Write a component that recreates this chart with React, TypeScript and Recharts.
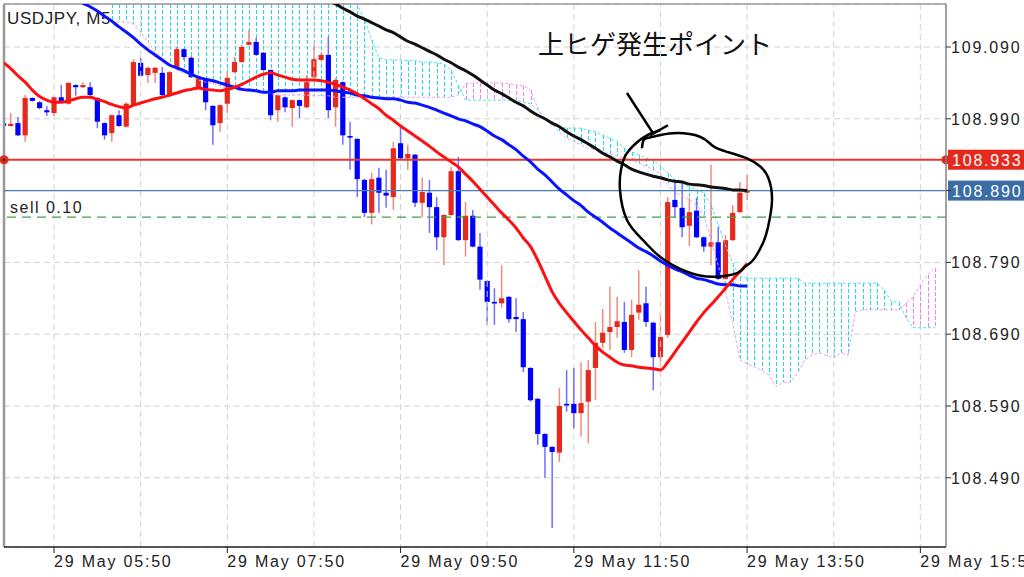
import React from 'react';
import { ComposedChart, Bar, Line, XAxis, YAxis, CartesianGrid, ReferenceLine } from 'recharts';

const W = 1024;
const H = 577;
const X_MIN = -6.93;
const X_MAX = 123.55;
const Y_MIN = 108.3936;
const Y_MAX = 109.1499;

// candles, bar index -7 .. 96 (index 0 = 29 May 05:50, 5 minute bars)
const candleStart = -7;
const opens = [
  108.984, 108.980, 108.984, 108.967, 109.019, 109.013, 109.002,
  108.998, 109.020, 109.011, 109.037, 109.034, 109.034, 109.019, 108.984, 108.970, 108.995,
  108.979, 109.009, 109.068, 109.051, 109.054, 109.054, 109.022, 109.062, 109.087, 109.075,
  109.034, 109.044, 109.008, 108.984, 109.011, 109.055, 109.069, 109.093, 109.097, 109.082,
  109.058, 109.002, 109.020, 109.005, 109.016, 109.006, 109.048, 109.072, 109.079, 109.006,
  109.041, 108.966, 108.962, 108.905, 108.859, 108.908, 108.887, 108.881, 108.956, 108.935,
  108.940, 108.873, 108.887, 108.867, 108.825, 108.856, 108.917, 108.821, 108.855, 108.812,
  108.764, 108.735, 108.733, 108.742, 108.714, 108.711, 108.643, 108.600, 108.551, 108.533,
  108.525, 108.593, 108.593, 108.580, 108.596, 108.643, 108.678, 108.693, 108.700, 108.707,
  108.668, 108.720, 108.733, 108.706, 108.658, 108.689, 108.877, 108.866, 108.841, 108.862,
  108.825, 108.812, 108.818, 108.767, 108.821, 108.860, 108.887,
];
const highs = [
  108.985, 108.998, 108.993, 109.023, 109.020, 109.015, 109.008,
  109.021, 109.037, 109.041, 109.038, 109.041, 109.041, 109.020, 108.985, 108.996, 109.002,
  109.013, 109.073, 109.075, 109.062, 109.062, 109.062, 109.056, 109.090, 109.088, 109.077,
  109.048, 109.045, 109.009, 109.010, 109.055, 109.076, 109.093, 109.114, 109.103, 109.083,
  109.059, 109.024, 109.021, 109.017, 109.017, 109.051, 109.093, 109.082, 109.104, 109.047,
  109.042, 108.986, 108.963, 108.906, 108.915, 108.922, 108.919, 108.958, 108.981, 108.954,
  108.941, 108.908, 108.905, 108.881, 108.857, 108.923, 108.937, 108.874, 108.863, 108.831,
  108.765, 108.754, 108.786, 108.743, 108.740, 108.721, 108.644, 108.601, 108.552, 108.534,
  108.615, 108.640, 108.643, 108.651, 108.654, 108.707, 108.725, 108.756, 108.742, 108.735,
  108.738, 108.779, 108.756, 108.707, 108.720, 108.881, 108.902, 108.901, 108.880, 108.880,
  108.826, 108.926, 108.839, 108.828, 108.870, 108.902, 108.912,
];
const lows = [
  108.979, 108.979, 108.966, 108.958, 109.014, 109.003, 108.994,
  108.994, 109.012, 109.010, 109.022, 109.033, 109.022, 108.977, 108.961, 108.958, 108.979,
  108.978, 109.008, 109.049, 109.040, 109.040, 109.022, 109.020, 109.061, 109.072, 109.047,
  109.033, 109.002, 108.954, 108.972, 108.998, 109.054, 109.068, 109.092, 109.078, 109.057,
  108.988, 108.986, 108.999, 108.979, 108.991, 109.005, 109.047, 109.071, 108.991, 108.979,
  108.954, 108.919, 108.881, 108.853, 108.843, 108.859, 108.866, 108.863, 108.934, 108.919,
  108.867, 108.853, 108.831, 108.807, 108.786, 108.855, 108.820, 108.798, 108.811, 108.752,
  108.703, 108.703, 108.727, 108.706, 108.693, 108.637, 108.596, 108.536, 108.490, 108.420,
  108.512, 108.582, 108.559, 108.547, 108.538, 108.598, 108.671, 108.668, 108.685, 108.664,
  108.658, 108.710, 108.700, 108.612, 108.644, 108.685, 108.853, 108.825, 108.813, 108.824,
  108.805, 108.786, 108.766, 108.766, 108.820, 108.859, 108.877,
];
const closes = [
  108.980, 108.983, 108.967, 109.019, 109.015, 109.005, 108.999,
  109.020, 109.013, 109.040, 109.034, 109.037, 109.023, 108.986, 108.967, 108.995, 108.980,
  109.011, 109.069, 109.050, 109.061, 109.061, 109.023, 109.055, 109.087, 109.076, 109.048,
  109.047, 109.013, 108.981, 109.009, 109.047, 109.069, 109.090, 109.097, 109.079, 109.058,
  108.995, 109.023, 109.006, 109.016, 109.008, 109.041, 109.073, 109.079, 109.002, 109.044,
  108.967, 108.965, 108.906, 108.859, 108.906, 108.887, 108.883, 108.949, 108.935, 108.941,
  108.873, 108.888, 108.867, 108.825, 108.856, 108.917, 108.821, 108.855, 108.812, 108.766,
  108.735, 108.733, 108.740, 108.711, 108.711, 108.644, 108.598, 108.551, 108.533, 108.526,
  108.590, 108.591, 108.580, 108.594, 108.640, 108.678, 108.692, 108.700, 108.708, 108.668,
  108.717, 108.731, 108.707, 108.658, 108.686, 108.874, 108.867, 108.839, 108.860, 108.825,
  108.812, 108.818, 108.767, 108.821, 108.859, 108.887, 108.890,
];

// moving averages
const maShortStart = -7;
const maShort = [
  109.068, 109.060, 109.050, 109.041, 109.030, 109.021, 109.016,
  109.013, 109.013, 109.015, 109.018, 109.020, 109.020, 109.017, 109.014, 109.010, 109.007,
  109.005, 109.009, 109.012, 109.015, 109.018, 109.020, 109.023, 109.026, 109.029, 109.031,
  109.033, 109.031, 109.030, 109.029, 109.031, 109.034, 109.038, 109.043, 109.048, 109.052,
  109.054, 109.051, 109.048, 109.045, 109.044, 109.044, 109.044, 109.043, 109.041, 109.038,
  109.034, 109.030, 109.025, 109.018, 109.011, 109.004, 108.995, 108.988, 108.980, 108.973,
  108.966, 108.959, 108.952, 108.944, 108.937, 108.930, 108.923, 108.913, 108.903, 108.892,
  108.881, 108.870, 108.859, 108.849, 108.838, 108.824, 108.812, 108.793, 108.771, 108.749,
  108.733, 108.720, 108.708, 108.696, 108.685, 108.674, 108.665, 108.658, 108.651, 108.647,
  108.646, 108.644, 108.643, 108.642, 108.640, 108.651, 108.665, 108.679, 108.693, 108.707,
  108.720, 108.731, 108.742, 108.754, 108.766, 108.777, 108.788,
];
const maMidStart = 0;
const maMid = [
  109.176, 109.171, 109.165, 109.158, 109.151, 109.146, 109.140, 109.133, 109.126, 109.118,
  109.111, 109.103, 109.094, 109.086, 109.079, 109.072, 109.065, 109.061, 109.057, 109.052,
  109.048, 109.045, 109.043, 109.040, 109.037, 109.034, 109.031, 109.030, 109.029, 109.027,
  109.027, 109.029, 109.029, 109.029, 109.030, 109.030, 109.030, 109.030, 109.030, 109.029,
  109.027, 109.026, 109.023, 109.022, 109.020, 109.019, 109.018, 109.018, 109.016, 109.013,
  109.012, 109.009, 109.006, 109.002, 108.998, 108.994, 108.990, 108.987, 108.983, 108.979,
  108.973, 108.966, 108.961, 108.954, 108.947, 108.938, 108.930, 108.920, 108.912, 108.902,
  108.892, 108.884, 108.876, 108.869, 108.860, 108.853, 108.846, 108.838, 108.831, 108.824,
  108.817, 108.810, 108.805, 108.799, 108.792, 108.786, 108.781, 108.777, 108.772, 108.768,
  108.766, 108.763, 108.760, 108.759, 108.759, 108.757, 108.757,
];
const maLongStart = 37;
const maLong = [
  109.160,
  109.154, 109.150, 109.144, 109.139, 109.133, 109.129, 109.124, 109.119, 109.114, 109.110,
  109.104, 109.098, 109.094, 109.089, 109.084, 109.079, 109.073, 109.068, 109.062, 109.057,
  109.051, 109.044, 109.037, 109.030, 109.025, 109.019, 109.013, 109.008, 109.001, 108.995,
  108.990, 108.984, 108.979, 108.972, 108.966, 108.961, 108.955, 108.949, 108.942, 108.937,
  108.931, 108.926, 108.920, 108.916, 108.913, 108.910, 108.908, 108.905, 108.903, 108.902,
  108.899, 108.898, 108.897, 108.895, 108.894, 108.893, 108.891, 108.891, 108.890,
];

// ichimoku cloud spans, bar index 8 .. 122
const cloudStart = 8;
const spanA = [
  109.183, 109.183, 109.183, 109.183, 109.183, 109.183, 109.183, 109.183, 109.183, 109.183,
  109.183, 109.183, 109.183, 109.183, 109.183, 109.183, 109.183, 109.183, 109.183, 109.183,
  109.183, 109.183, 109.183, 109.183, 109.183, 109.183, 109.183, 109.183, 109.183, 109.183,
  109.183, 109.183, 109.176, 109.162, 109.149, 109.128, 109.100, 109.075, 109.072, 109.072,
  109.072, 109.071, 109.071, 109.069, 109.069, 109.068, 109.066, 109.058, 109.037, 109.016,
  109.016, 109.016, 109.016, 109.016, 109.016, 109.016, 109.016, 109.013, 109.011, 109.002,
  108.991, 108.981, 108.979, 108.977, 108.977, 108.977, 108.974, 108.972, 108.967, 108.963,
  108.958, 108.949, 108.944, 108.940, 108.935, 108.933, 108.924, 108.915, 108.905, 108.899,
  108.895, 108.891, 108.887, 108.870, 108.842, 108.814, 108.789, 108.770, 108.768, 108.768,
  108.768, 108.768, 108.768, 108.768, 108.768, 108.768, 108.761, 108.761, 108.761, 108.761,
  108.761, 108.761, 108.761, 108.761, 108.761, 108.761, 108.761, 108.752, 108.735, 108.735,
  108.713, 108.699, 108.699, 108.699, 108.699,
];
const spanB = [
  109.125, 109.125, 109.125, 109.122, 109.111, 109.097, 109.083, 109.075, 109.066, 109.058,
  109.054, 109.050, 109.044, 109.041, 109.039, 109.036, 109.033, 109.032, 109.030, 109.029,
  109.027, 109.026, 109.025, 109.023, 109.023, 109.023, 109.023, 109.023, 109.022, 109.022,
  109.022, 109.020, 109.020, 109.020, 109.020, 109.020, 109.020, 109.020, 109.020, 109.020,
  109.020, 109.020, 109.020, 109.020, 109.020, 109.020, 109.020, 109.020, 109.023, 109.039,
  109.040, 109.040, 109.040, 109.040, 109.040, 109.039, 109.037, 109.036, 109.030, 109.005,
  108.988, 108.983, 108.972, 108.963, 108.958, 108.954, 108.949, 108.947, 108.944, 108.941,
  108.938, 108.935, 108.933, 108.928, 108.924, 108.919, 108.913, 108.898, 108.887, 108.883,
  108.877, 108.870, 108.856, 108.821, 108.786, 108.749, 108.706, 108.654, 108.649, 108.644,
  108.640, 108.633, 108.617, 108.623, 108.623, 108.636, 108.654, 108.661, 108.664, 108.660,
  108.657, 108.664, 108.661, 108.721, 108.724, 108.724, 108.724, 108.724, 108.724, 108.724,
  108.733, 108.742, 108.759, 108.773, 108.782,
];

const timeTicks = [0, 24, 48, 72, 96, 120];
const timeLabels = ['29 May 05:50', '29 May 07:50', '29 May 09:50', '29 May 11:50', '29 May 13:50', '29 May 15:50'];
const minorGrid = [12, 36, 60, 84, 108];
const priceTicks = [108.49, 108.59, 108.69, 108.79, 108.89, 108.99, 109.09];

const alertLevel = 108.933;
const bidLevel = 108.89;
const sellLevel = 108.853;
const sellText = 'sell 0.10';
const titleText = 'USDJPY, M5';
const noteText = '上ヒゲ発生ポイント';

// hand drawn circle & arrow (bar index, price)
const circleIdx = [81.44, 81.72, 82.96, 85.73, 89.47, 91.27, 93.21, 95.98, 97.78, 98.89, 99.45, 98.89, 98.2, 96.81, 95.71, 94.6, 91.27, 87.67, 83.93, 81.58, 79.36, 78.39, 78.53, 79.22, 80.61, 82.13, 83.93];
const circlePrice = [108.949, 108.961, 108.965, 108.970, 108.965, 108.952, 108.944, 108.935, 108.924, 108.909, 108.877, 108.839, 108.817, 108.793, 108.784, 108.775, 108.770, 108.777, 108.798, 108.821, 108.849, 108.891, 108.919, 108.940, 108.956, 108.967, 108.974];
const arrowIdx = [79.36, 82.96];
const arrowPrice = [109.026, 108.970];
const arrowHeadIdx = [82.55, 85.04];
const arrowHeadPrice = [108.967, 108.981];

const rows: any[] = [];
for (let i = -7; i <= 122; i++) {
  const r: any = { i };
  const vals: number[] = [];
  const k = i - candleStart;
  if (k >= 0 && k < opens.length) {
    r.o = opens[k];
    r.h = highs[k];
    r.l = lows[k];
    r.c = closes[k];
    vals.push(lows[k], highs[k]);
  }
  const s = i - maShortStart;
  if (s >= 0 && s < maShort.length) r.maShort = maShort[s];
  const m = i - maMidStart;
  if (m >= 0 && m < maMid.length) r.maMid = maMid[m];
  const g = i - maLongStart;
  if (g >= 0 && g < maLong.length) r.maLong = maLong[g];
  const c = i - cloudStart;
  if (c >= 0 && c < spanA.length) {
    r.spanA = spanA[c];
    r.spanB = spanB[c];
    vals.push(spanA[c], spanB[c]);
  }
  // one range per bar holding every value drawn at this bar (candle and cloud)
  if (vals.length) r.span = [Math.min(...vals), Math.max(...vals)];
  rows.push(r);
}

const circleData = circleIdx.map((v, k) => ({ i: v, p: circlePrice[k] }));
const arrowData = arrowIdx.map((v, k) => ({ i: v, p: arrowPrice[k] }));
const arrowHeadData = arrowHeadIdx.map((v, k) => ({ i: v, p: arrowHeadPrice[k] }));

const FONT = "'Liberation Sans', Arial, sans-serif";

// draws the cloud hatch and the candle of one bar, using the bar's own scaled range
const BarMark = (props: any) => {
  const { x, y, width, height, payload } = props;
  if (!payload || !payload.span) return null;
  const [vMin, vMax] = payload.span;
  const top = Math.min(y, y + height);
  const hh = Math.abs(height);
  const k = vMax - vMin > 0 ? hh / (vMax - vMin) : 0;
  const Y = (v: number) => top + (vMax - v) * k;
  const cx = x + width / 2;
  const hx = Math.round(cx) + 0.5;
  const parts: any[] = [];
  if (payload.spanA != null) {
    const a = payload.spanA;
    const b = payload.spanB;
    parts.push(
      <line
        key="cloud"
        x1={hx}
        x2={hx}
        y1={Math.max(Y(Math.max(a, b)), 4)}
        y2={Y(Math.min(a, b))}
        stroke={a >= b ? '#22d8ee' : '#f27ded'}
        strokeWidth={1}
        strokeDasharray="4 2"
        shapeRendering="crispEdges"
      />
    );
  }
  if (payload.o != null) {
    const { o, h, l, c } = payload;
    const up = c >= o;
    const bTop = Y(Math.max(o, c));
    let bH = Y(Math.min(o, c)) - bTop;
    if (bH < 1.6) bH = 1.6;
    parts.push(<line key="wick" x1={cx} x2={cx} y1={Y(h)} y2={Y(l)} stroke={up ? '#f2897f' : '#6f6fff'} strokeWidth={1.5} />);
    parts.push(<rect key="body" x={cx - 2.6} y={bTop} width={5.2} height={bH} fill={up ? '#e5291d' : '#0000ff'} />);
  }
  return <g>{parts}</g>;
};

const TimeTick = (props: any) => {
  const { x, y, payload } = props;
  const idx = timeTicks.indexOf(payload.value);
  if (idx < 0) return null;
  return (
    <g>
      <line x1={x} x2={x} y1={y - 8} y2={y - 2} stroke="#222" strokeWidth={1} />
      <text x={x} y={y + 12} fontFamily={FONT} fontSize={16} letterSpacing={1.8} fill="#222" textAnchor="start">
        {timeLabels[idx]}
      </text>
    </g>
  );
};

const PriceTick = (props: any) => {
  const { x, y, payload } = props;
  if (Math.abs(payload.value - bidLevel) < 0.0005) return null;
  return (
    <text x={x - 2} y={y + 6} fontFamily={FONT} fontSize={16} letterSpacing={1.8} fill="#222" textAnchor="start">
      {Number(payload.value).toFixed(3)}
    </text>
  );
};

const PriceTag = (props: any) => {
  const { viewBox, text, bg, dots } = props;
  if (!viewBox) return null;
  const { x, y, width } = viewBox;
  return (
    <g>
      {dots ? <circle cx={x} cy={y} r={4.5} fill="#e5291d" /> : null}
      {dots ? <circle cx={x + width} cy={y} r={4.5} fill="#e5291d" /> : null}
      {dots ? <circle cx={x} cy={y} r={1.2} fill="#222" /> : null}
      {dots ? <circle cx={x + width} cy={y} r={1.2} fill="#222" /> : null}
      <rect x={x + width + 2} y={y - 10} width={80} height={20} fill={bg} />
      <text x={x + width + 6} y={y + 6} fontFamily={FONT} fontSize={16} letterSpacing={1.8} fill="#fff">
        {text}
      </text>
    </g>
  );
};

const SellLabel = (props: any) => {
  const { viewBox } = props;
  if (!viewBox) return null;
  return (
    <text x={viewBox.x + 6} y={viewBox.y - 4} fontFamily={FONT} fontSize={16} letterSpacing={1.5} fill="#222">
      {sellText}
    </text>
  );
};

export default function App() {
  return (
    <div style={{ position: 'absolute', left: 0, top: 0, width: W, height: H, background: '#fff' }}>
      <ComposedChart width={W} height={H} data={rows} margin={{ top: 4, right: 0, bottom: 0, left: 4 }}>
        <CartesianGrid stroke="#d2d2d2" strokeDasharray="6 4" strokeWidth={1} />
        <XAxis
          type="number"
          dataKey="i"
          domain={[X_MIN, X_MAX]}
          allowDataOverflow
          ticks={timeTicks}
          interval={0}
          tick={<TimeTick />}
          tickLine={false}
          tickSize={6}
          tickMargin={2}
          axisLine={{ stroke: '#222', strokeWidth: 1.5 }}
          height={30}
        />
        <YAxis
          orientation="right"
          type="number"
          domain={[Y_MIN, Y_MAX]}
          allowDataOverflow
          ticks={priceTicks}
          interval={0}
          tick={<PriceTick />}
          tickLine={{ stroke: '#333' }}
          tickSize={5}
          tickMargin={2}
          axisLine={{ stroke: '#888', strokeWidth: 1.5 }}
          width={78}
        />
        {minorGrid.map((v) => (
          <ReferenceLine key={v} x={v} stroke="#d2d2d2" strokeDasharray="6 4" strokeWidth={1} />
        ))}
        <ReferenceLine x={X_MIN} stroke="#999" strokeWidth={2.5} />
        <ReferenceLine y={Y_MAX} stroke="#999" strokeWidth={1.5} />

        <Bar dataKey="span" barSize={5} shape={<BarMark />} isAnimationActive={false} />

        <Line dataKey="spanA" type="linear" stroke="#4fe0f0" strokeWidth={1} strokeDasharray="3 2" dot={false} activeDot={false} isAnimationActive={false} />
        <Line dataKey="spanB" type="linear" stroke="#f39cef" strokeWidth={1} strokeDasharray="3 2" dot={false} activeDot={false} isAnimationActive={false} />

        <ReferenceLine y={sellLevel} stroke="#3fa33f" strokeWidth={1.2} strokeDasharray="9 6" label={<SellLabel />} />
        <ReferenceLine y={bidLevel} stroke="#4a7db5" strokeWidth={1.2} label={<PriceTag text={bidLevel.toFixed(3)} bg="#3a6da6" />} />
        <ReferenceLine y={alertLevel} stroke="#e5372c" strokeWidth={2.2} label={<PriceTag text={alertLevel.toFixed(3)} bg="#e5291d" dots />} />

        <Line dataKey="maLong" type="monotone" stroke="#111" strokeWidth={3} dot={false} activeDot={false} isAnimationActive={false} />
        <Line dataKey="maMid" type="monotone" stroke="#0a14ff" strokeWidth={3} dot={false} activeDot={false} isAnimationActive={false} />
        <Line dataKey="maShort" type="monotone" stroke="#ff1010" strokeWidth={3} dot={false} activeDot={false} isAnimationActive={false} />

        <Line data={circleData} dataKey="p" type="natural" stroke="#000" strokeWidth={2.5} dot={false} activeDot={false} isAnimationActive={false} />
        <Line data={arrowData} dataKey="p" type="linear" stroke="#000" strokeWidth={2.5} dot={false} activeDot={false} isAnimationActive={false} />
        <Line data={arrowHeadData} dataKey="p" type="linear" stroke="#000" strokeWidth={2.5} dot={false} activeDot={false} isAnimationActive={false} />

        <text x={7} y={24} fontFamily={FONT} fontSize={17} letterSpacing={0.6} fill="#222">{titleText}</text>
        <text x={538} y={54} fontFamily="'Noto Sans CJK JP', sans-serif" fontSize={26} fill="#111">{noteText}</text>
      </ComposedChart>
    </div>
  );
}
